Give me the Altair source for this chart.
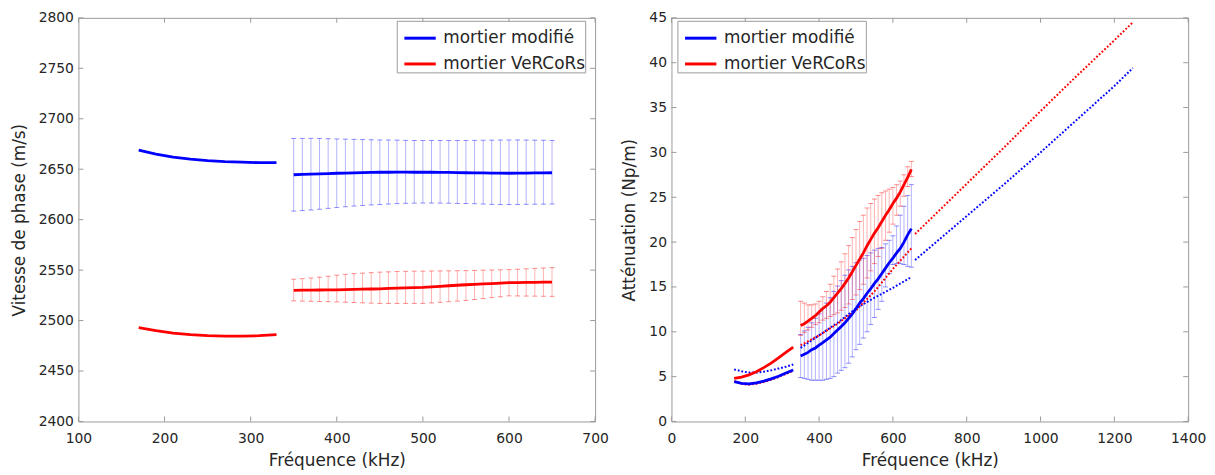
import altair as alt
import pandas as pd

FONT = "DejaVu Sans"
TXT = "#262626"
FRAME = "#9a9a9a"
SERIES = ["mortier modifié", "mortier VeRCoRs"]
COLORS = ["#0000ff", "#ff0000"]
BLUE, RED = COLORS
W, H = 521, 407

# ---------------- left panel : phase velocity ----------------
L_XTICKS = [100, 200, 300, 400, 500, 600, 700]
L_YTICKS = [2400, 2450, 2500, 2550, 2600, 2650, 2700, 2750, 2800]

f_low = [170, 190, 210, 230, 250, 270, 290, 310, 330]
L_mod_low = [2669, 2665, 2662, 2660, 2658.5, 2657.5, 2657, 2656.5, 2656.5]
L_ver_low = [2493, 2490, 2487.5, 2486, 2485, 2484.5, 2484.5, 2485, 2486]

f_high = [350, 360, 370, 380, 390, 400, 410, 420, 430, 440, 450, 460, 470, 480, 490,
          500, 510, 520, 530, 540, 550, 560, 570, 580, 590, 600, 610, 620, 630, 640, 650]
L_mod_mean = [2644.5, 2644.8, 2645.1, 2645.4, 2645.7, 2646.0, 2646.2, 2646.4, 2646.6, 2646.8,
              2647.0, 2647.0, 2647.1, 2647.1, 2647.0, 2647.0, 2647.0, 2646.9, 2646.8, 2646.7,
              2646.5, 2646.4, 2646.3, 2646.2, 2646.1, 2646.0, 2646.1, 2646.2, 2646.3, 2646.4, 2646.5]
L_mod_hi = [2680.5, 2680.5, 2680.6, 2680.4, 2680.2, 2680.0, 2679.8, 2679.6, 2679.4, 2679.2,
            2679.0, 2678.9, 2678.8, 2678.6, 2678.5, 2678.5, 2678.5, 2678.4, 2678.4, 2678.5,
            2678.5, 2678.6, 2678.7, 2678.8, 2678.9, 2679.0, 2679.0, 2678.9, 2678.8, 2678.7, 2678.5]
L_mod_lo = [2608.5, 2609.0, 2609.6, 2610.3, 2611.2, 2612.0, 2612.8, 2613.5, 2614.1, 2614.6,
            2615.0, 2615.5, 2615.9, 2616.2, 2616.4, 2616.5, 2616.5, 2616.4, 2616.3, 2616.1,
            2616.0, 2615.8, 2615.5, 2615.2, 2615.0, 2615.0, 2615.1, 2615.2, 2615.3, 2615.4, 2615.5]
L_ver_mean = [2530.0, 2530.1, 2530.2, 2530.3, 2530.4, 2530.5, 2530.7, 2530.9, 2531.1, 2531.3,
              2531.5, 2531.8, 2532.1, 2532.4, 2532.7, 2533.0, 2533.5, 2534.0, 2534.5, 2535.0,
              2535.5, 2535.9, 2536.3, 2536.7, 2537.1, 2537.5, 2537.7, 2537.8, 2537.9, 2538.0, 2538.0]
L_ver_hi = [2541.0, 2541.5, 2542.2, 2543.0, 2544.0, 2545.0, 2545.8, 2546.5, 2547.0, 2547.5,
            2548.0, 2548.3, 2548.6, 2548.8, 2549.0, 2549.0, 2549.1, 2549.2, 2549.3, 2549.4,
            2549.5, 2549.7, 2549.9, 2550.1, 2550.3, 2550.5, 2550.9, 2551.3, 2551.7, 2552.1, 2552.5]
L_ver_lo = [2519.5, 2519.3, 2519.1, 2518.9, 2518.7, 2518.5, 2518.2, 2517.9, 2517.6, 2517.3,
            2517.0, 2517.0, 2517.0, 2517.0, 2517.0, 2517.0, 2517.5, 2518.1, 2518.7, 2519.3,
            2520.0, 2520.9, 2521.8, 2522.7, 2523.6, 2524.5, 2524.4, 2524.3, 2524.2, 2524.1, 2524.0]

# ---------------- right panel : attenuation ----------------
R_XTICKS = [0, 200, 400, 600, 800, 1000, 1200, 1400]
R_YTICKS = [0, 5, 10, 15, 20, 25, 30, 35, 40, 45]

R_mod_low = [4.45, 4.25, 4.2, 4.3, 4.5, 4.75, 5.05, 5.4, 5.75]
R_ver_low = [4.8, 4.95, 5.2, 5.55, 6.0, 6.5, 7.1, 7.7, 8.3]
R_mod_low_dot = [5.8, 5.6, 5.45, 5.45, 5.55, 5.7, 5.9, 6.1, 6.35]
R_ver_low_dot = [4.5, 4.2, 4.1, 4.2, 4.4, 4.65, 4.95, 5.3, 5.65]

R_mod_mean = [7.3, 7.5, 7.7, 8.0, 8.2, 8.5, 8.8, 9.1, 9.4, 9.8, 10.2, 10.6, 11.0, 11.5, 12.0,
              12.6, 13.2, 13.7, 14.3, 14.8, 15.4, 15.9, 16.5, 17.1, 17.7, 18.2, 18.8, 19.3,
              20.0, 20.8, 21.5]
R_mod_lo = [4.9, 4.8, 4.7, 4.6, 4.6, 4.6, 4.6, 4.7, 4.8, 5.0, 5.4, 5.7, 6.0, 6.5, 7.2,
            8.0, 8.6, 9.3, 10.0, 10.8, 11.6, 12.5, 13.4, 15.0, 16.5, 17.5, 17.6, 17.6,
            17.5, 17.3, 17.2]
R_mod_hi = [9.7, 10.1, 10.5, 11.0, 11.5, 12.0, 12.6, 13.2, 13.8, 14.5, 15.1, 15.7, 16.3, 16.9,
            17.3, 17.7, 18.0, 18.2, 18.5, 18.8, 19.1, 19.3, 19.4, 19.8, 20.2, 20.7, 21.8, 23.0,
            24.0, 25.2, 26.4]
R_ver_mean = [10.7, 10.9, 11.2, 11.5, 11.8, 12.2, 12.6, 12.9, 13.3, 13.8, 14.3, 14.8, 15.4,
              16.0, 16.7, 17.4, 18.1, 18.8, 19.6, 20.3, 21.0, 21.6, 22.3, 23.0, 23.6, 24.3,
              24.9, 25.6, 26.4, 27.2, 28.1]
R_ver_lo = [9.6, 9.9, 10.2, 10.5, 10.8, 11.0, 11.3, 11.5, 11.7, 11.9, 12.1, 12.4, 12.7, 13.1,
            13.6, 14.1, 14.7, 15.3, 16.0, 16.8, 17.6, 18.4, 19.3, 20.2, 21.1, 22.0, 23.0, 24.0,
            25.1, 26.2, 27.3]
R_ver_hi = [13.4, 13.2, 13.0, 13.0, 13.1, 13.4, 13.9, 14.5, 15.3, 16.2, 17.0, 17.8, 18.7,
            19.6, 20.5, 21.4, 22.3, 23.0, 23.8, 24.3, 24.8, 25.2, 25.5, 25.7, 25.9, 26.1, 26.4,
            26.8, 27.5, 28.4, 29.0]

f_dot = [350, 400, 450, 500, 550, 600, 650]
R_mod_dot = [8.2, 9.6, 11.0, 12.6, 13.8, 14.9, 16.1]
R_ver_dot = [8.5, 9.6, 10.9, 12.4, 14.5, 17.0, 19.3]

f_ext = [660, 700, 800, 900, 1000, 1100, 1200, 1250]
R_mod_ext = [18.0, 19.4, 22.9, 26.4, 30.0, 33.7, 37.4, 39.4]
R_ver_ext = [20.9, 22.5, 26.5, 30.5, 34.6, 38.6, 42.5, 44.5]


def xenc(field, dom, ticks):
    return alt.X(f"{field}:Q", scale=alt.Scale(domain=dom, nice=False, zero=False),
                 axis=alt.Axis(title="Fréquence (kHz)", values=ticks, format="d"))


def yenc(field, dom, ticks, title):
    return alt.Y(f"{field}:Q", scale=alt.Scale(domain=dom, nice=False, zero=False),
                 axis=alt.Axis(title=title, values=ticks, format="d"))


def frame_ticks(xdom, xt, ydom, yt, ytitle):
    dx = pd.DataFrame({"t": xt})
    dy = pd.DataFrame({"t": yt})
    m = dict(color=FRAME, strokeWidth=1)
    bot = alt.Chart(dx).mark_rule(**m).encode(x=xenc("t", xdom, xt), y=alt.value(H), y2=alt.value(H - 5))
    top = alt.Chart(dx).mark_rule(**m).encode(x=xenc("t", xdom, xt), y=alt.value(0), y2=alt.value(5))
    lef = alt.Chart(dy).mark_rule(**m).encode(y=yenc("t", ydom, yt, ytitle), x=alt.value(0), x2=alt.value(5))
    rig = alt.Chart(dy).mark_rule(**m).encode(y=yenc("t", ydom, yt, ytitle), x=alt.value(W - 5), x2=alt.value(W))
    return [bot, top, lef, rig]


def errbars(f, lo, hi, color, xdom, xt, ydom, yt, ytitle):
    df = pd.DataFrame({"f": f, "lo": lo, "hi": hi})
    rules = alt.Chart(df).mark_rule(color=color, opacity=0.3, strokeWidth=1).encode(
        x=xenc("f", xdom, xt), y=yenc("lo", ydom, yt, ytitle), y2="hi:Q")
    caps = []
    for fld in ("lo", "hi"):
        caps.append(alt.Chart(df).mark_tick(color=color, opacity=0.45, orient="horizontal",
                                            size=5, thickness=1).encode(
            x=xenc("f", xdom, xt), y=yenc(fld, ydom, yt, ytitle)))
    return [rules] + caps


def lines_df(parts):
    rows = []
    for series, seg, fs, vs in parts:
        for f, v in zip(fs, vs):
            rows.append({"f": f, "v": v, "series": series, "seg": seg})
    return pd.DataFrame(rows)


def solid(parts, xdom, xt, ydom, yt, ytitle, lx, ly):
    df = lines_df(parts)
    return alt.Chart(df).mark_line(strokeWidth=2.8).encode(
        x=xenc("f", xdom, xt), y=yenc("v", ydom, yt, ytitle),
        color=alt.Color("series:N", scale=alt.Scale(domain=SERIES, range=COLORS),
                        legend=alt.Legend(title=None, orient="none", legendX=lx, legendY=ly,
                                          symbolType="stroke", symbolSize=1000,
                                          symbolOffset=6, symbolStrokeWidth=3,
                                          labelFont=FONT, labelFontSize=17, labelColor=TXT,
                                          labelLimit=400, labelExpr="datum.label + '\u00a0'",
                                          padding=0, strokeColor=FRAME, fillColor="white",
                                          rowPadding=-3.6, labelOffset=6)),
        detail="seg:N")


def dotted(parts, color, xdom, xt, ydom, yt, ytitle):
    df = lines_df(parts)
    return alt.Chart(df).mark_line(color=color, strokeWidth=2, strokeDash=[1.8, 1.9]).encode(
        x=xenc("f", xdom, xt), y=yenc("v", ydom, yt, ytitle), detail="seg:N")


# ---- left chart
LXD, LYD = [100, 700], [2400, 2800]
LT = "Vitesse de phase (m/s)"
left_layers = (
    errbars(f_high, L_mod_lo, L_mod_hi, BLUE, LXD, L_XTICKS, LYD, L_YTICKS, LT)
    + errbars(f_high, L_ver_lo, L_ver_hi, RED, LXD, L_XTICKS, LYD, L_YTICKS, LT)
    + [solid([(SERIES[0], "a", f_low, L_mod_low), (SERIES[0], "b", f_high, L_mod_mean),
              (SERIES[1], "a", f_low, L_ver_low), (SERIES[1], "b", f_high, L_ver_mean)],
             LXD, L_XTICKS, LYD, L_YTICKS, LT, 321, 3)]
    + frame_ticks(LXD, L_XTICKS, LYD, L_YTICKS, LT)
)
left = alt.layer(*left_layers).properties(width=W, height=H)

# ---- right chart
RXD, RYD = [0, 1400], [0, 45]
RT = "Atténuation (Np/m)"
right_layers = (
    errbars(f_high, R_mod_lo, R_mod_hi, BLUE, RXD, R_XTICKS, RYD, R_YTICKS, RT)
    + errbars(f_high, R_ver_lo, R_ver_hi, RED, RXD, R_XTICKS, RYD, R_YTICKS, RT)
    + [dotted([("m", "a", f_low, R_mod_low_dot), ("m", "b", f_dot, R_mod_dot),
               ("m", "c", f_ext, R_mod_ext)], BLUE, RXD, R_XTICKS, RYD, R_YTICKS, RT),
       dotted([("v", "a", f_low, R_ver_low_dot), ("v", "b", f_dot, R_ver_dot),
               ("v", "c", f_ext, R_ver_ext)], RED, RXD, R_XTICKS, RYD, R_YTICKS, RT)]
    + [solid([(SERIES[0], "a", f_low, R_mod_low), (SERIES[0], "b", f_high, R_mod_mean),
              (SERIES[1], "a", f_low, R_ver_low), (SERIES[1], "b", f_high, R_ver_mean)],
             RXD, R_XTICKS, RYD, R_YTICKS, RT, 6, 3)]
    + frame_ticks(RXD, R_XTICKS, RYD, R_YTICKS, RT)
)
right = alt.layer(*right_layers).properties(width=W, height=H)

chart = (
    alt.hconcat(left, right, spacing=11)
    .resolve_scale(color="independent")
    .resolve_legend(color="independent")
    .properties(background="white", padding={"left": 1, "top": 0, "right": 0, "bottom": 0})
    .configure_view(stroke=FRAME, strokeWidth=1)
    .configure_axis(domain=False, ticks=False, tickSize=0, grid=False, labelFlush=False,
                    labelFont=FONT, labelFontSize=14, labelColor=TXT,
                    titleFont=FONT, titleFontSize=17, titleFontWeight="normal",
                    titleColor=TXT)
    .configure_axisX(labelPadding=10, titlePadding=7)
    .configure_axisY(labelPadding=5, titlePadding=10)
)

chart.save("out.html", embed_options={"renderer": "svg", "actions": False})
